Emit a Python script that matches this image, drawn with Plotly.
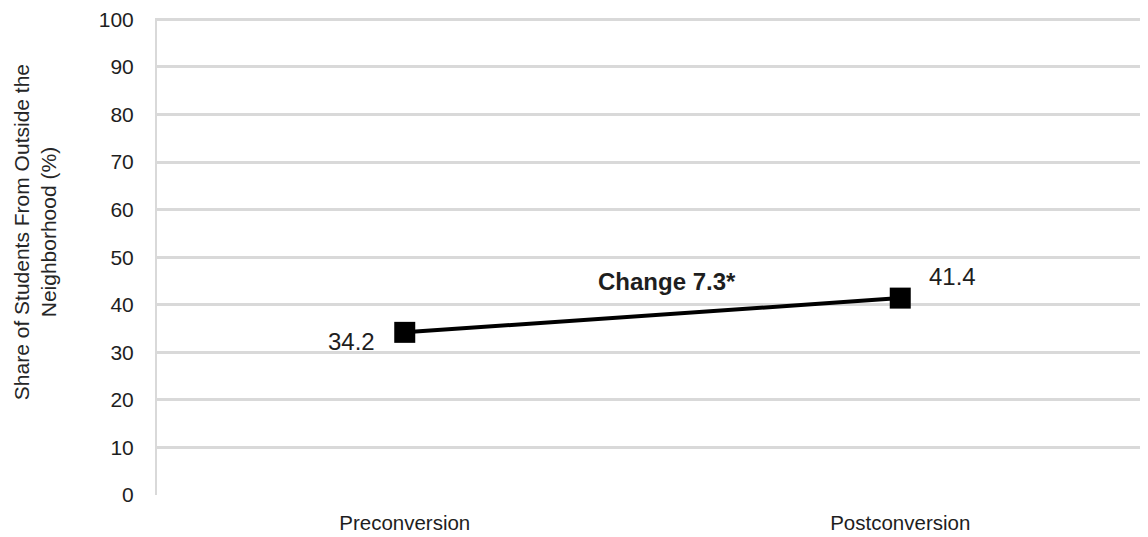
import plotly.graph_objects as go

categories = ["Preconversion", "Postconversion"]
values = [34.2, 41.4]
value_labels = ["34.2", "41.4"]
change_label = "<b>Change 7.3*</b>"
change_y = 44.9
y_ticks = list(range(0, 101, 10))
y_title = "Share of Students From Outside the<br>Neighborhood (%)"

FONT = "Liberation Sans, Arial, sans-serif"
TXT = "#1e1e1e"

fig = go.Figure()
fig.add_trace(go.Scatter(
    x=[0, 1], y=values, mode="lines+markers",
    line=dict(color="black", width=4),
    marker=dict(symbol="square", size=21, color="black"),
    showlegend=False, hoverinfo="skip",
))

fig.add_annotation(x=0, y=values[0], text=value_labels[0], showarrow=False,
                   xanchor="right", yanchor="middle", xshift=-28, yshift=-9,
                   font=dict(family=FONT, size=24, color=TXT))
fig.add_annotation(x=1, y=values[1], text=value_labels[1], showarrow=False,
                   xanchor="left", yanchor="middle", xshift=27, yshift=22,
                   font=dict(family=FONT, size=24, color=TXT))
fig.add_annotation(x=0.5, y=change_y, text=change_label, showarrow=False,
                   xanchor="center", yanchor="middle", xshift=14,
                   font=dict(family=FONT, size=24, color=TXT))
fig.add_annotation(xref="paper", yref="paper", x=-0.1236, y=0.55, text=y_title,
                   showarrow=False, textangle=-90, xanchor="center", yanchor="middle",
                   font=dict(family=FONT, size=21, color="#262626"))

fig.update_layout(
    width=1140, height=529,
    margin=dict(l=149, r=0, t=6, b=42),
    paper_bgcolor="white", plot_bgcolor="white",
    font=dict(family=FONT, size=21, color=TXT),
    xaxis=dict(range=[-0.5, 1.5], tickvals=[0, 1], ticktext=categories,
               showgrid=False, zeroline=False, showline=False, ticks="",
               ticklabelstandoff=13, tickfont=dict(size=20.5)),
    yaxis=dict(range=[0, 100.3], tickvals=y_ticks, showgrid=True,
               gridcolor="#d9d9d9", gridwidth=2.5, zeroline=False,
               showline=True, linecolor="#d9d9d9", linewidth=2,
               ticks="", ticklen=0, ticklabelstandoff=17,
               ticklabeloverflow="allow", tickfont=dict(size=21)),
)

fig.write_html("out.html")
